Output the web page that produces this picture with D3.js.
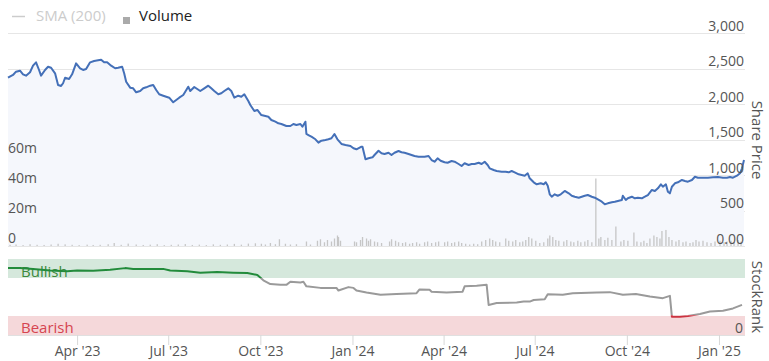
<!DOCTYPE html>
<html>
<head>
<meta charset="utf-8">
<script src="https://cdn.jsdelivr.net/npm/d3@7"></script>
<style>
  html, body { margin: 0; padding: 0; background: #fff; }
  svg { display: block; font-family: "Open Sans", sans-serif; }
</style>
</head>
<body>
<svg id="chart" width="769" height="361"></svg>
<script>
// share price (close)
const priceData = [
  ["2023-01-22",2370],["2023-01-27",2409],["2023-01-30",2455],["2023-02-03",2469],["2023-02-06",2418],
  ["2023-02-09",2399],["2023-02-13",2447],["2023-02-16",2540],["2023-02-19",2587],["2023-02-22",2479],
  ["2023-02-24",2399],["2023-02-28",2479],["2023-03-03",2525],["2023-03-06",2511],["2023-03-10",2432],
  ["2023-03-13",2268],["2023-03-16",2254],["2023-03-18",2292],["2023-03-20",2370],["2023-03-24",2352],
  ["2023-03-27",2418],["2023-03-31",2573],["2023-04-04",2503],["2023-04-07",2479],["2023-04-10",2493],
  ["2023-04-14",2587],["2023-04-18",2606],["2023-04-22",2616],["2023-04-25",2624],["2023-04-28",2587],
  ["2023-05-01",2587],["2023-05-05",2540],["2023-05-09",2503],["2023-05-12",2511],["2023-05-16",2525],
  ["2023-05-18",2432],["2023-05-20",2314],["2023-05-24",2230],["2023-05-27",2221],["2023-05-30",2165],
  ["2023-06-03",2183],["2023-06-06",2221],["2023-06-09",2235],["2023-06-13",2258],["2023-06-16",2268],
  ["2023-06-19",2197],["2023-06-22",2137],["2023-06-26",2117],["2023-06-29",2103],["2023-07-02",2089],
  ["2023-07-06",2024],["2023-07-09",2056],["2023-07-12",2089],["2023-07-16",2127],["2023-07-18",2173],
  ["2023-07-21",2244],["2023-07-23",2183],["2023-07-27",2240],["2023-07-30",2211],["2023-08-02",2183],
  ["2023-08-06",2221],["2023-08-10",2258],["2023-08-13",2221],["2023-08-16",2183],["2023-08-20",2137],
  ["2023-08-23",2151],["2023-08-26",2183],["2023-08-30",2221],["2023-09-02",2183],["2023-09-05",2089],
  ["2023-09-09",2117],["2023-09-12",2103],["2023-09-15",2137],["2023-09-19",2042],["2023-09-21",1986],
  ["2023-09-25",1901],["2023-09-28",1916],["2023-10-02",1845],["2023-10-06",1831],["2023-10-09",1821],
  ["2023-10-12",1775],["2023-10-16",1751],["2023-10-19",1728],["2023-10-22",1718],["2023-10-27",1690],
  ["2023-10-31",1690],["2023-11-03",1718],["2023-11-06",1704],["2023-11-10",1718],["2023-11-12",1680],
  ["2023-11-15",1751],["2023-11-16",1578],["2023-11-18",1563],["2023-11-21",1540],["2023-11-25",1503],
  ["2023-11-28",1455],["2023-12-01",1483],["2023-12-05",1493],["2023-12-08",1503],["2023-12-11",1517],
  ["2023-12-14",1578],["2023-12-17",1503],["2023-12-21",1437],["2023-12-25",1423],["2023-12-30",1409],
  ["2024-01-02",1376],["2024-01-05",1362],["2024-01-10",1399],["2024-01-11",1399],["2024-01-14",1221],
  ["2024-01-17",1235],["2024-01-21",1249],["2024-01-23",1282],["2024-01-27",1342],["2024-01-30",1306],
  ["2024-02-02",1296],["2024-02-06",1314],["2024-02-09",1282],["2024-02-12",1314],["2024-02-16",1338],
  ["2024-02-19",1320],["2024-02-22",1314],["2024-02-26",1296],["2024-02-29",1282],["2024-03-03",1268],
  ["2024-03-07",1258],["2024-03-10",1258],["2024-03-13",1258],["2024-03-17",1268],["2024-03-20",1211],
  ["2024-03-23",1187],["2024-03-26",1235],["2024-03-29",1201],["2024-04-02",1179],["2024-04-05",1173],
  ["2024-04-09",1197],["2024-04-12",1187],["2024-04-16",1155],["2024-04-19",1127],["2024-04-22",1165],
  ["2024-04-26",1141],["2024-04-29",1155],["2024-05-02",1155],["2024-05-06",1173],["2024-05-09",1155],
  ["2024-05-12",1187],["2024-05-15",1141],["2024-05-17",1094],["2024-05-21",1070],["2024-05-24",1056],
  ["2024-05-29",1047],["2024-06-02",1047],["2024-06-05",1038],["2024-06-08",1056],["2024-06-11",1038],
  ["2024-06-15",1010],["2024-06-18",1000],["2024-06-21",990],["2024-06-24",1024],["2024-06-26",954],
  ["2024-06-30",897],["2024-07-03",869],["2024-07-07",883],["2024-07-10",869],["2024-07-12",897],
  ["2024-07-14",849],["2024-07-16",728],["2024-07-18",694],["2024-07-21",728],["2024-07-24",708],
  ["2024-07-27",728],["2024-07-31",775],["2024-08-04",742],["2024-08-07",708],["2024-08-10",694],
  ["2024-08-14",680],["2024-08-17",694],["2024-08-20",708],["2024-08-23",718],["2024-08-27",694],
  ["2024-08-30",680],["2024-09-03",648],["2024-09-06",624],["2024-09-09",587],["2024-09-12",601],
  ["2024-09-16",616],["2024-09-19",624],["2024-09-22",634],["2024-09-26",648],["2024-09-27",708],
  ["2024-09-30",648],["2024-10-02",672],["2024-10-06",694],["2024-10-09",672],["2024-10-12",680],
  ["2024-10-16",672],["2024-10-19",694],["2024-10-22",718],["2024-10-26",789],["2024-10-29",775],
  ["2024-11-01",813],["2024-11-04",869],["2024-11-06",835],["2024-11-09",869],["2024-11-11",765],
  ["2024-11-13",742],["2024-11-15",835],["2024-11-18",883],["2024-11-21",897],["2024-11-25",930],
  ["2024-11-28",916],["2024-12-01",906],["2024-12-05",930],["2024-12-08",976],["2024-12-11",962],
  ["2024-12-16",962],["2024-12-21",962],["2024-12-26",968],["2024-12-31",972],["2025-01-05",962],
  ["2025-01-09",962],["2025-01-12",972],["2025-01-15",962],["2025-01-19",990],["2025-01-22",1024],
  ["2025-01-24",1094],["2025-01-26",1211]
];

// traded volume, millions of shares
const volumeData = [
  ["2023-01-24",0.8],["2023-01-30",1.0],["2023-02-06",0.6],["2023-02-13",1.2],["2023-02-20",0.8],
  ["2023-02-27",0.7],["2023-03-06",1.0],["2023-03-13",1.5],["2023-03-20",1.1],["2023-03-27",0.8],
  ["2023-04-03",0.6],["2023-04-11",0.9],["2023-04-17",0.7],["2023-04-24",0.8],["2023-05-02",1.2],
  ["2023-05-08",2.0],["2023-05-15",0.8],["2023-05-22",1.6],["2023-05-30",1.0],["2023-06-06",0.7],
  ["2023-06-13",0.9],["2023-06-20",1.2],["2023-06-27",0.6],["2023-07-04",0.8],["2023-07-11",1.0],
  ["2023-07-18",1.3],["2023-07-25",0.7],["2023-08-01",0.9],["2023-08-08",0.6],["2023-08-15",1.1],
  ["2023-08-22",0.8],["2023-08-29",1.0],["2023-09-05",1.4],["2023-09-12",0.9],["2023-09-19",1.6],
  ["2023-09-26",1.8],["2023-10-02",1.5],["2023-10-06",1.0],["2023-10-11",2.0],["2023-10-16",1.2],
  ["2023-10-20",4.5],["2023-10-26",1.5],["2023-10-31",1.0],["2023-11-06",1.2],["2023-11-16",3.0],
  ["2023-11-20",1.0],["2023-11-27",3.5],["2023-11-30",4.5],["2023-12-04",2.5],["2023-12-07",4.0],
  ["2023-12-11",3.0],["2023-12-14",5.0],["2023-12-17",7.0],["2023-12-18",6.0],["2023-12-20",3.5],
  ["2024-01-03",3.0],["2024-01-05",2.5],["2024-01-09",4.0],["2024-01-11",6.0],["2024-01-15",5.0],
  ["2024-01-17",3.5],["2024-01-19",4.5],["2024-01-23",3.0],["2024-01-26",2.5],["2024-01-30",2.0],
  ["2024-02-07",3.0],["2024-02-09",4.5],["2024-02-13",3.5],["2024-02-16",2.5],["2024-02-20",2.0],
  ["2024-02-23",2.5],["2024-02-27",1.5],["2024-03-01",2.0],["2024-03-05",2.5],["2024-03-08",1.5],
  ["2024-03-13",2.5],["2024-03-16",3.0],["2024-03-20",2.0],["2024-03-24",2.5],["2024-03-27",3.0],
  ["2024-04-02",2.5],["2024-04-05",3.0],["2024-04-09",2.0],["2024-04-12",2.5],["2024-04-16",3.0],
  ["2024-04-19",2.0],["2024-04-23",1.5],["2024-04-27",1.0],["2024-05-01",1.5],["2024-05-05",1.2],
  ["2024-05-09",3.0],["2024-05-13",4.0],["2024-05-17",5.0],["2024-05-20",4.0],["2024-05-23",3.0],
  ["2024-05-27",2.5],["2024-06-02",5.0],["2024-06-05",3.5],["2024-06-09",3.0],["2024-06-12",4.0],
  ["2024-06-16",2.5],["2024-06-19",3.0],["2024-06-22",4.0],["2024-06-25",6.0],["2024-06-28",5.0],
  ["2024-07-02",3.5],["2024-07-06",2.0],["2024-07-10",2.5],["2024-07-14",5.0],["2024-07-16",7.0],
  ["2024-07-19",6.0],["2024-07-22",4.0],["2024-07-25",3.5],["2024-07-30",3.0],["2024-08-02",4.0],
  ["2024-08-06",3.0],["2024-08-09",2.5],["2024-08-13",3.5],["2024-08-16",2.5],["2024-08-20",3.0],
  ["2024-08-23",4.0],["2024-08-27",2.5],["2024-08-31",45],["2024-09-03",5.0],["2024-09-05",6.0],
  ["2024-09-09",4.0],["2024-09-12",5.5],["2024-09-16",4.0],["2024-09-20",13],["2024-09-25",3.0],
  ["2024-09-28",4.0],["2024-10-02",3.5],["2024-10-08",9.0],["2024-10-11",3.0],["2024-10-15",2.5],
  ["2024-10-18",3.5],["2024-10-21",2.0],["2024-10-24",5.0],["2024-10-28",7.0],["2024-10-31",6.0],
  ["2024-11-03",5.0],["2024-11-05",10],["2024-11-09",10.7],["2024-11-12",6.0],["2024-11-15",4.0],
  ["2024-11-19",3.0],["2024-11-22",4.0],["2024-11-26",2.5],["2024-11-29",3.0],["2024-12-03",2.0],
  ["2024-12-06",2.5],["2024-12-09",4.0],["2024-12-12",3.0],["2024-12-16",3.5],["2024-12-20",2.5],
  ["2024-12-24",2.0],["2024-12-28",3.0],["2025-01-02",3.5],["2025-01-06",2.5],["2025-01-09",3.0],
  ["2025-01-13",3.5],["2025-01-16",2.5],["2025-01-20",4.0],["2025-01-23",3.0]
];

// StockRank history
const rankData = [
  ["2023-01-22",88],["2023-02-03",88],["2023-02-16",87],["2023-03-05",85],["2023-03-22",84],
  ["2023-04-01",85],["2023-04-17",84.5],["2023-05-04",86],["2023-05-19",88],["2023-05-27",87],
  ["2023-06-13",87],["2023-06-26",87],["2023-07-03",85],["2023-07-20",84],["2023-08-02",82],
  ["2023-08-19",83],["2023-09-04",82],["2023-09-18",81.5],["2023-09-28",79],["2023-10-04",72],
  ["2023-10-11",67],["2023-10-21",66],["2023-10-27",66],["2023-10-31",70],["2023-11-10",69],
  ["2023-11-13",70],["2023-11-16",64],["2023-11-30",62],["2023-12-16",62],["2023-12-18",58.5],
  ["2023-12-28",63],["2024-01-02",62],["2024-01-05",58.5],["2024-01-15",56],["2024-01-29",53],
  ["2024-02-14",54],["2024-03-05",55],["2024-03-08",60],["2024-03-18",59.5],["2024-03-20",57],
  ["2024-04-04",56],["2024-04-20",57],["2024-04-22",64],["2024-05-04",64.7],["2024-05-14",66],
  ["2024-05-16",39.6],["2024-05-24",42],["2024-06-13",42.7],["2024-06-20",44],["2024-06-26",44],
  ["2024-06-30",46],["2024-07-11",47],["2024-07-14",53.7],["2024-07-29",53],["2024-08-08",55],
  ["2024-09-01",56],["2024-09-14",56.4],["2024-09-27",53],["2024-10-10",54],["2024-10-24",50.6],
  ["2024-11-06",48.5],["2024-11-13",51.5],["2024-11-15",24],["2024-11-23",24],["2024-12-01",25],
  ["2024-12-13",27.7],["2024-12-23",30.8],["2025-01-05",32],["2025-01-15",35],["2025-01-24",39.6]
];

const xTicks = ["2023-04-01","2023-07-01","2023-10-01","2024-01-01","2024-04-01","2024-07-01","2024-10-01","2025-01-01"];
const priceTicks = [0, 500, 1000, 1500, 2000, 2500, 3000];
const volumeTicks = [0, 20, 40, 60];

const parse = d3.utcParse("%Y-%m-%d");
const L = 8, R = 745;
const svg = d3.select("#chart");

const x = d3.scaleUtc()
  .domain([parse("2023-01-22"), parse("2025-01-27")])
  .range([L, R]);
const yPrice = d3.scaleLinear().domain([0, 3000]).range([246, 33]);
const yVol = d3.scaleLinear().domain([0, 60]).range([246, 156]);
const yRank = d3.scaleLinear().domain([0, 100]).range([335, 259]);

const prices = priceData.map(([d, v]) => ({ date: parse(d), v }));
const volumes = volumeData.map(([d, v]) => ({ date: parse(d), v }));
const ranks = rankData.map(([d, v]) => ({ date: parse(d), v }));

// ── 가격 패널 ──
const grid = svg.append("g");
priceTicks.forEach(t => {
  grid.append("line")
    .attr("x1", L).attr("x2", R)
    .attr("y1", Math.round(yPrice(t)) + 0.5).attr("y2", Math.round(yPrice(t)) + 0.5)
    .attr("stroke", "#e6e6e6").attr("stroke-width", 1);
});

svg.append("path")
  .datum(prices)
  .attr("fill", "#f5f7fc")
  .attr("d", d3.area().x(d => x(d.date)).y0(yPrice(0)).y1(d => yPrice(d.v)));

svg.append("g")
  .selectAll("rect")
  .data(volumes)
  .join("rect")
  .attr("x", d => x(d.date) - 0.6)
  .attr("width", 1.3)
  .attr("y", d => yVol(d.v))
  .attr("height", d => yVol(0) - yVol(d.v))
  .attr("fill", "#c6c6c6");

svg.append("path")
  .datum(prices)
  .attr("fill", "none")
  .attr("stroke", "#4470b8")
  .attr("stroke-width", 2)
  .attr("stroke-linejoin", "round")
  .attr("d", d3.line().x(d => x(d.date)).y(d => yPrice(d.v)));

// price axis labels (right, inside)
const pAxis = svg.append("g")
  .attr("transform", `translate(${R - 1},0)`)
  .call(d3.axisLeft(yPrice).tickValues(priceTicks).tickSize(0).tickPadding(0)
    .tickFormat(v => v === 0 ? "0.00" : d3.format(",")(v)));
pAxis.select(".domain").remove();
pAxis.selectAll("text").attr("y", -7).attr("fill", "#555").attr("font-size", 14)
  .attr("font-family", "Open Sans, sans-serif");

// volume axis labels (left, inside)
const vAxis = svg.append("g")
  .attr("transform", `translate(${L},0)`)
  .call(d3.axisRight(yVol).tickValues(volumeTicks).tickSize(0).tickPadding(0)
    .tickFormat(v => v === 0 ? "0" : v + "m"));
vAxis.select(".domain").remove();
vAxis.selectAll("text").attr("y", -8).attr("fill", "#555").attr("font-size", 14)
  .attr("font-family", "Open Sans, sans-serif");

svg.append("text")
  .attr("transform", "translate(756,140) rotate(90)")
  .attr("text-anchor", "middle")
  .attr("dominant-baseline", "middle")
  .attr("fill", "#555").attr("font-size", 15)
  .text("Share Price");

// legend
const lg = svg.append("g").attr("font-size", 15);
lg.append("line").attr("x1", 12).attr("x2", 25).attr("y1", 16.5).attr("y2", 16.5)
  .attr("stroke", "#cccccc").attr("stroke-width", 1.5);
lg.append("text").attr("x", 36).attr("y", 21).attr("fill", "#cccccc").text("SMA (200)");
lg.append("rect").attr("x", 123).attr("y", 17).attr("width", 7).attr("height", 7).attr("fill", "#aaaaaa");
lg.append("text").attr("x", 139).attr("y", 21).attr("fill", "#222").text("Volume");

// ── StockRank 패널 ──
svg.append("line").attr("x1", L).attr("x2", R).attr("y1", 259.5).attr("y2", 259.5)
  .attr("stroke", "#e6e6e6");
svg.append("rect").attr("x", L).attr("width", R - L)
  .attr("y", yRank(100)).attr("height", yRank(75) - yRank(100)).attr("fill", "#d5e8dc");
svg.append("rect").attr("x", L).attr("width", R - L)
  .attr("y", yRank(25)).attr("height", yRank(0) - yRank(25)).attr("fill", "#f5d8da");

svg.append("text").attr("x", 21).attr("y", 277).attr("fill", "#3d8a3d").attr("font-size", 15).text("Bullish");
svg.append("text").attr("x", 21).attr("y", 333).attr("fill", "#d64550").attr("font-size", 15).text("Bearish");
svg.append("text").attr("x", 743).attr("y", 333).attr("text-anchor", "end").attr("fill", "#555")
  .attr("font-size", 14).text("0");

const defs = svg.append("defs");
const zones = [
  { id: "zGreen", y0: 0, y1: yRank(75), color: "#228b3b" },
  { id: "zGray", y0: yRank(75), y1: yRank(26), color: "#9a9a9a" },
  { id: "zRed", y0: yRank(26), y1: 361, color: "#cc3340" },
];
const rankLine = d3.line().x(d => x(d.date)).y(d => yRank(d.v));
zones.forEach(z => {
  defs.append("clipPath").attr("id", z.id)
    .append("rect").attr("x", 0).attr("width", 769).attr("y", z.y0).attr("height", z.y1 - z.y0);
  svg.append("path")
    .datum(ranks)
    .attr("clip-path", `url(#${z.id})`)
    .attr("fill", "none")
    .attr("stroke", z.color)
    .attr("stroke-width", 2)
    .attr("stroke-linejoin", "round")
    .attr("d", rankLine);
});

svg.append("text")
  .attr("transform", "translate(756,297) rotate(90)")
  .attr("text-anchor", "middle")
  .attr("dominant-baseline", "middle")
  .attr("fill", "#555").attr("font-size", 15)
  .text("StockRank");

// x axis
const xAxis = svg.append("g")
  .attr("transform", "translate(0,335)")
  .call(d3.axisBottom(x).tickValues(xTicks.map(parse)).tickSize(10).tickPadding(1)
    .tickFormat(d3.utcFormat("%b '%y")));
xAxis.select(".domain").attr("stroke", "#e0e0e0").attr("d", `M${L},0.5H${R}`);
xAxis.selectAll(".tick line").attr("stroke", "#d8d8d8");
xAxis.selectAll("text").attr("fill", "#555").attr("font-size", 14)
  .attr("font-family", "Open Sans, sans-serif");
</script>
</body>
</html>
